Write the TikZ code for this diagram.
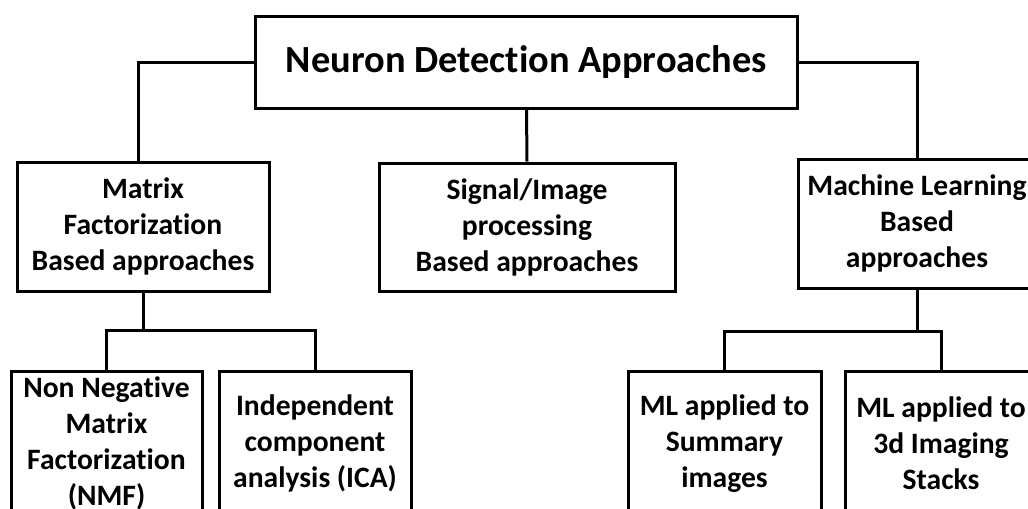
\documentclass[tikz,border=0pt]{standalone}
\usepackage{fontspec}
\setmainfont{Carlito}[RawFeature=-liga]
\begin{document}
\begin{tikzpicture}[x=0.75pt,y=-0.75pt,
  box/.style={draw=black,line width=2.25pt,fill=white,inner sep=0pt,align=center,
    font=\fontsize{22.2}{27}\selectfont\bfseries},
  conn/.style={draw=black,line width=2.25pt}]
\useasboundingbox (0,0) rectangle (1028,508);
\clip (0,0) rectangle (1028,508);
\fill[white] (0,0) rectangle (1028,508);
% top
\node[box,minimum width=406pt,minimum height=69pt,font=\fontsize{28.8}{34}\selectfont\bfseries] (top) at (526.5,62) {Neuron Detection Approaches};
% second level
\node[box,minimum width=189pt,minimum height=96.75pt] (mf) at (143,226.5) {Matrix\\Factorization\\Based approaches};
\node[box,minimum width=222pt,minimum height=96pt] (sig) at (527,227) {Signal/Image\\processing\\Based approaches};
\node[box,minimum width=178.5pt,minimum height=96.75pt] (ml) at (917,223.5) {Machine Learning\\Based\\approaches};
% third level
\node[box,minimum width=143.25pt,minimum height=108.75pt] (nmf) at (106.5,443.5) {Non Negative\\Matrix\\Factorization\\(NMF)};
\node[box,minimum width=144pt,minimum height=108.75pt] (ica) at (315,443.5) {Independent\\component\\analysis (ICA)};
\node[box,minimum width=144.75pt,minimum height=108.75pt] (sum) at (724.5,443.5) {ML applied to\\Summary\\images};
\node[box,minimum width=144pt,minimum height=108.75pt] (stk) at (941,443.5) {ML applied to\\3d Imaging\\Stacks};
% connectors
\draw[conn] (top.west) -| ([xshift=-3.75pt]mf.north);
\draw[conn] (top.east) -| (ml.north);
\draw[conn] (top.south) -- (sig.north);
\draw[conn] (mf.south) -- ++(0,38) coordinate (mfj);
\draw[conn] (nmf.north) |- (mfj) -| (ica.north);
\draw[conn] (ml.south) -- ++(0,42) coordinate (mlj);
\draw[conn] (sum.north) |- (mlj) -| (stk.north);
\end{tikzpicture}
\end{document}
